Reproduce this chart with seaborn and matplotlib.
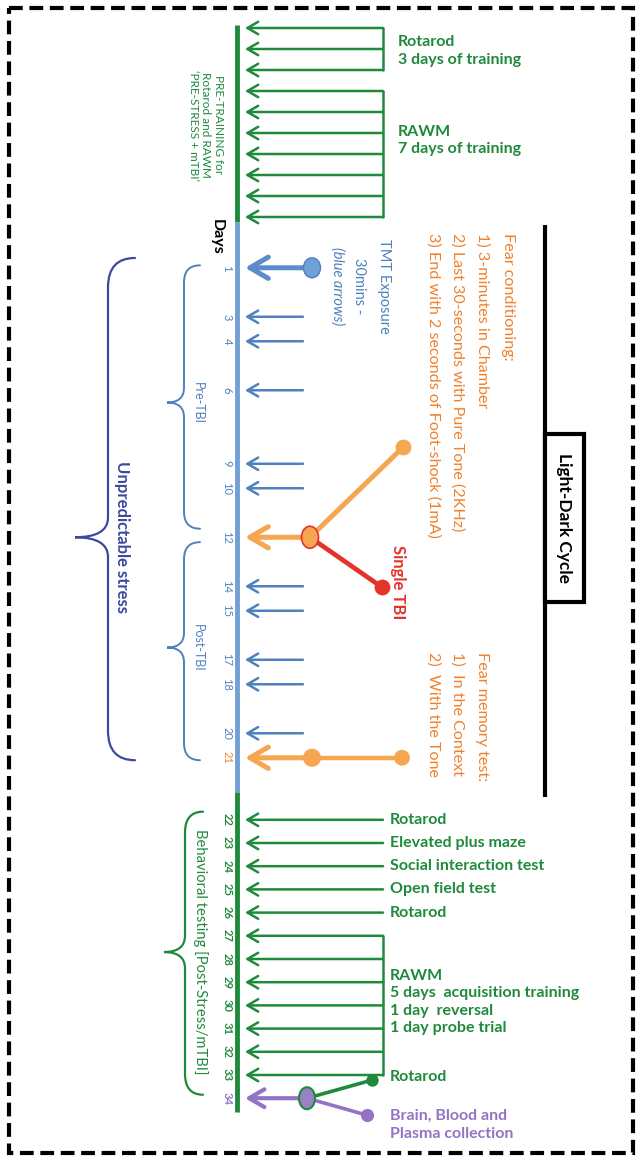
import numpy as np
import pandas as pd
import matplotlib.pyplot as plt
import seaborn as sns
from matplotlib.patches import Rectangle, Ellipse, PathPatch
from matplotlib.path import Path

# ---------------- data ----------------
# pre-training sessions (before day 1)
pre_rotarod_sessions = [1, 2, 3]
pre_rawm_sessions = [4, 5, 6, 7, 8, 9, 10]

# stress / TBI phase
tmt_days = [1, 3, 4, 6, 9, 10, 14, 15, 17, 18, 20]
tbi_day = 12
fear_test_day = 21
stress_day_labels = [1, 3, 4, 6, 9, 10, 12, 14, 15, 17, 18, 20, 21]

# behavioural testing phase
behav_days = [22, 23, 24, 25, 26]
behav_tests = ["Rotarod", "Elevated plus maze", "Social interaction test",
               "Open field test", "Rotarod"]
rawm_days = [27, 28, 29, 30, 31, 32, 33]
final_day = 34
behav_day_labels = list(range(22, 35))

fear_cond_lines = ["Fear conditioning:",
                   "1) 3-minutes in Chamber",
                   "2) Last 30-seconds with Pure Tone (2KHz)",
                   "3) End with 2 seconds of Foot-shock (1mA)"]
fear_mem_lines = ["Fear memory test:", "1)  In the Context", "2)  With the Tone"]

# ---------------- style ----------------
GREEN = "#1f8a3c"
BLUE = "#4f81bd"
BLUE_AXIS = "#72a0d6"
ORANGE_TXT = "#f0812c"
ORANGE = "#f6a551"
RED = "#e4342a"
PURPLE = "#9374c4"
NAVY = "#3b4a9f"

sns.set_theme(style="white")
plt.rcParams["font.family"] = ["Lato", "DejaVu Sans"]

W, H = 639, 1157
fig = plt.figure(figsize=(W / 100, H / 100), dpi=100)


def timeline_axes(ref, ref_px, px_per_unit):
    # full-figure axes, x in layout pixels, y in its own (day) units
    ax = fig.add_axes([0, 0, 1, 1])
    ax.set_xlim(0, W)
    ax.set_ylim(ref + (H - ref_px) / px_per_unit, ref - ref_px / px_per_unit)
    ax.axis("off")
    ax.patch.set_alpha(0)
    return ax


ax_bg = timeline_axes(0, 0, 1)
ax_pre = timeline_axes(1, 28, 21.0)
ax_st = timeline_axes(11.54, 526, 24.5)
ax_bh = timeline_axes(28, 959, 23.2)

AXIS_X = 237
TIP_X = 245
LABEL_FS = 11.5
LS = 1.32


def arrow(ax, y, x_tail, color, lw=1.8, head=14):
    ax.annotate("", xy=(TIP_X, y), xytext=(x_tail, y),
                arrowprops=dict(arrowstyle="->,head_length=0.55,head_width=0.32",
                                color=color, lw=lw, mutation_scale=head,
                                shrinkA=0, shrinkB=0), zorder=3)


def brace(ax, top, bot, mid, x_v, x_tip, x_end, r_end, r_mid, color, lw=1.5):
    verts = [(x_end, top), (x_v, top), (x_v, top + r_end),
             (x_v, mid - r_mid), (x_v, mid), (x_tip, mid),
             (x_v, mid), (x_v, mid + r_mid),
             (x_v, bot - r_end), (x_v, bot), (x_end, bot)]
    codes = [Path.MOVETO, Path.CURVE3, Path.CURVE3, Path.LINETO,
             Path.CURVE3, Path.CURVE3, Path.CURVE3, Path.CURVE3,
             Path.LINETO, Path.CURVE3, Path.CURVE3]
    ax.add_patch(PathPatch(Path(verts, codes), fill=False, ec=color, lw=lw,
                           capstyle="round"))


def vtext(ax, x, y, s, color, size=11, weight="normal", va="center", **kw):
    ax.text(x, y, s, rotation=270, color=color, fontsize=size, fontweight=weight,
            ha="center", va=va, multialignment="center", **kw)


# ---------------- frame ----------------
ax_bg.add_patch(Rectangle((9, 8), 624, 1145, fill=False, ec="black", lw=3,
                          ls=(0, (3.3, 1.6))))

# ---------------- pre-training ----------------
pre_all = pre_rotarod_sessions + pre_rawm_sessions
ax_pre.plot([AXIS_X, AXIS_X], [pre_all[0] - 0.15, pre_all[-1] + 0.25],
            color=GREEN, lw=3.5, solid_capstyle="butt")
for s in pre_all:
    arrow(ax_pre, s, 383, GREEN)
for grp in (pre_rotarod_sessions, pre_rawm_sessions):
    ax_pre.plot([383, 383], [grp[0], grp[-1]], color=GREEN, lw=1.8)
ax_pre.text(398, np.mean(pre_rotarod_sessions) + 0.1, "Rotarod\n3 days of training",
            color=GREEN, fontsize=LABEL_FS, fontweight="bold", va="center",
            linespacing=LS)
ax_pre.text(398, np.mean(pre_rawm_sessions) - 0.65, "RAWM\n7 days of training",
            color=GREEN, fontsize=LABEL_FS, fontweight="bold", va="center",
            linespacing=LS)
vtext(ax_bg, 206, 125,
      "PRE-TRAINING for\nRotarod and RAWM\n\u2018PRE-STRESS + mTBI\u2019",
      GREEN, size=8.5, linespacing=1.15)
vtext(ax_bg, 217, 237, "Days", "black", size=11.5, weight="bold")

# ---------------- stress phase ----------------
ax_st.plot([AXIS_X, AXIS_X], [stress_day_labels[0] - 1.86, fear_test_day + 1.38],
           color=BLUE_AXIS, lw=3.5, solid_capstyle="butt")
for d in tmt_days:
    if d == tmt_days[0]:
        arrow(ax_st, d, 312, "#5b8dcb", lw=3.6, head=24)
        ax_st.add_patch(Ellipse((312, d), 17, 20 / 24.5, fc="#6fa0d8", ec=BLUE,
                                lw=1, zorder=4))
    else:
        arrow(ax_st, d, 303, BLUE)
for d in stress_day_labels:
    c = ORANGE_TXT if d == fear_test_day else BLUE
    vtext(ax_st, 227, d, str(d), c, size=8)

# single TBI / fear conditioning (day 12)
fc_top = (403, tbi_day - 3.67)
tbi_end = (382, tbi_day + 2.04)
ax_st.plot([310, fc_top[0]], [tbi_day, fc_top[1]], color=ORANGE, lw=3.6,
           solid_capstyle="round", zorder=2)
ax_st.plot([310, tbi_end[0]], [tbi_day, tbi_end[1]], color=RED, lw=3.4,
           solid_capstyle="round", zorder=2)
arrow(ax_st, tbi_day, 310, ORANGE, lw=3.6, head=24)
ax_st.add_patch(Ellipse((310, tbi_day), 17, 22 / 24.5, fc=ORANGE, ec=RED,
                        lw=1.2, zorder=4))
sns.scatterplot(x=[fc_top[0]], y=[fc_top[1]], ax=ax_st, s=130, color=ORANGE,
                linewidth=0, zorder=4)
sns.scatterplot(x=[tbi_end[0]], y=[tbi_end[1]], ax=ax_st, s=130, color=RED,
                linewidth=0, zorder=4)
vtext(ax_st, 398, tbi_day + 0.3, "Single TBI", RED, size=12, weight="bold", va="top")

# fear memory test (day 21)
ax_st.plot([312, 402], [fear_test_day, fear_test_day], color=ORANGE, lw=3.2, zorder=2)
arrow(ax_st, fear_test_day, 312, ORANGE, lw=3.6, head=24)
sns.scatterplot(x=[312, 402], y=[fear_test_day] * 2, ax=ax_st,
                size=[2, 1], sizes=(130, 170), color=ORANGE, linewidth=0,
                legend=False, zorder=4)
for x, line in zip([482, 457, 433], fear_mem_lines):
    vtext(ax_st, x, fear_test_day - 4.3, line, ORANGE_TXT, size=11.6, va="top")

# TMT and fear conditioning notes
vtext(ax_bg, 384, 286, "TMT Exposure", BLUE, size=10.5)
vtext(ax_bg, 359, 286, "30mins -", BLUE, size=10.5)
vtext(ax_bg, 337, 286, "(blue arrows)", BLUE, size=10.5, style="italic")
for x, line in zip([508, 482, 457, 433], fear_cond_lines):
    vtext(ax_bg, x, 233, line, ORANGE_TXT, size=11.6, va="top")

# braces
brace(ax_st, stress_day_labels[0] - 0.4, fear_test_day + 0.1, tbi_day,
      108, 75, 135, 1.2, 0.8, NAVY, lw=1.6)
vtext(ax_st, 122, tbi_day, "Unpredictable stress", NAVY, size=12, weight="bold")
brace(ax_st, stress_day_labels[0] - 0.1, tbi_day - 0.35,
      (stress_day_labels[0] + tbi_day) / 2, 184, 167, 200, 0.7, 0.6, BLUE, lw=1.4)
vtext(ax_st, 198, (stress_day_labels[0] + tbi_day) / 2, "Pre-TBI", BLUE, size=9)
brace(ax_st, tbi_day + 0.2, fear_test_day + 0.1, (tbi_day + fear_test_day) / 2,
      184, 167, 200, 0.7, 0.6, BLUE, lw=1.4)
vtext(ax_st, 198, (tbi_day + fear_test_day) / 2, "Post-TBI", BLUE, size=9)

# light-dark cycle
ax_bg.plot([545, 545], [225, 797], color="black", lw=3, solid_capstyle="butt")
ax_bg.add_patch(Rectangle((545, 434), 39, 168, fc="white", ec="black", lw=3, zorder=3))
vtext(ax_bg, 564.5, 518, "Light-Dark Cycle", "black", size=12.5, weight="bold", zorder=4)

# ---------------- behavioural phase ----------------
ax_bh.plot([AXIS_X, AXIS_X], [behav_days[0] - 1.2, final_day + 0.6],
           color=GREEN, lw=3.5, solid_capstyle="butt")
for d, name in zip(behav_days, behav_tests):
    arrow(ax_bh, d, 383, GREEN)
    ax_bh.text(390, d, name, color=GREEN, fontsize=LABEL_FS, fontweight="bold",
               va="center")
for d in rawm_days:
    arrow(ax_bh, d, 383, GREEN)
ax_bh.plot([383, 383], [rawm_days[0], rawm_days[-1]], color=GREEN, lw=1.8)
ax_bh.text(390, np.mean(rawm_days) - 0.15,
           "RAWM\n5 days  acquisition training\n1 day  reversal\n1 day probe trial",
           color=GREEN, fontsize=LABEL_FS, fontweight="bold", va="center",
           linespacing=LS)
for d in behav_day_labels:
    c = PURPLE if d == final_day else GREEN
    vtext(ax_bh, 227, d, str(d), c, size=8, weight="bold")

# final day: rotarod + collection
rot_end = (372, final_day - 0.78)
col_end = (367, final_day + 0.73)
ax_bh.plot([307, rot_end[0]], [final_day, rot_end[1]], color=GREEN, lw=2.6, zorder=2)
ax_bh.plot([307, col_end[0]], [final_day, col_end[1]], color=PURPLE, lw=2.6, zorder=2)
arrow(ax_bh, final_day, 307, PURPLE, lw=3, head=20)
ax_bh.add_patch(Ellipse((307, final_day), 16, 22 / 23.2, fc="#9b7fc9", ec=GREEN,
                        lw=1.5, zorder=4))
sns.scatterplot(x=[rot_end[0]], y=[rot_end[1]], ax=ax_bh, s=80, color=GREEN,
                linewidth=0, zorder=4)
sns.scatterplot(x=[col_end[0]], y=[col_end[1]], ax=ax_bh, s=90, color=PURPLE,
                linewidth=0, zorder=4)
ax_bh.text(390, final_day - 0.9, "Rotarod", color=GREEN, fontsize=LABEL_FS,
           fontweight="bold", va="center")
ax_bh.text(390, final_day + 1.15, "Brain, Blood and\nPlasma collection", color=PURPLE,
           fontsize=LABEL_FS, fontweight="bold", va="center", linespacing=LS)

brace(ax_bh, behav_days[0] - 0.35, rawm_days[-1] + 0.85,
      (behav_days[0] + rawm_days[-1]) / 2 + 0.2, 185, 164, 203, 0.9, 0.7, GREEN, lw=1.6)
vtext(ax_bh, 200, (behav_days[0] + rawm_days[-1]) / 2 + 0.2,
      "Behavioral testing [Post-Stress/mTBI]", GREEN, size=10.6)

fig.savefig("out.png", dpi=100)
